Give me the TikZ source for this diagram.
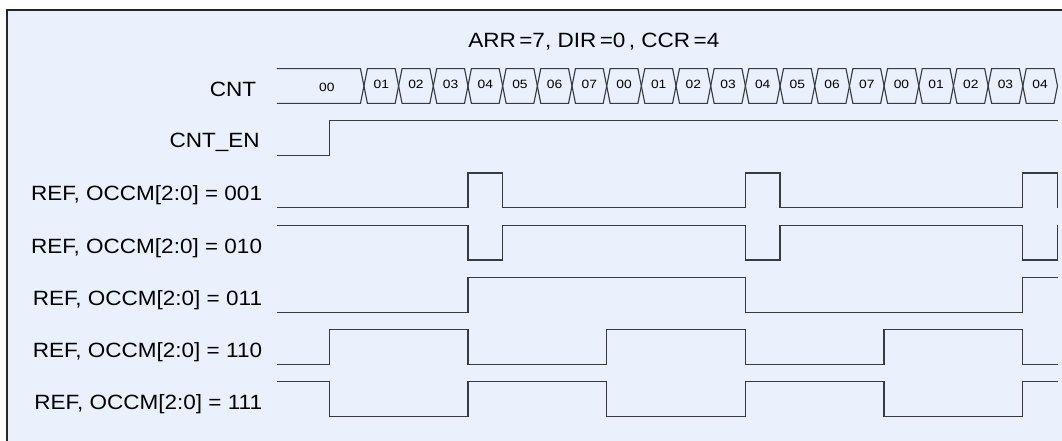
\documentclass[tikz,border=0pt]{standalone}
\usepackage{fontspec}
\setmainfont{Liberation Sans}
\newfontfamily\lblfont[FakeStretch=1.09]{Liberation Sans}
\newfontfamily\cntfont[FakeStretch=1.15]{Liberation Sans}
\definecolor{panel}{HTML}{EAF1FC}
\definecolor{wave}{HTML}{383C42}

\begin{document}
\begin{tikzpicture}[x=26.01pt,y=26.1pt]
\tikzstyle{every node}=[inner sep=0pt];
\tikzstyle{lbl}=[anchor=base east, font=\lblfont\fontsize{15.5}{18}\selectfont];
\tikzstyle{ttl}=[anchor=base, font=\lblfont\fontsize{15.5}{18}\selectfont];
\tikzstyle{cnt}=[font=\cntfont\fontsize{9}{11}\selectfont];
\tikzstyle{sig}=[draw=wave, line width=1pt];
\tikzstyle{bus}=[draw=wave, line width=0.85pt, line join=miter];

\useasboundingbox (-9.495,0) rectangle (21.13,12.672);
\clip (-9.495,0) rectangle (21.13,12.672);
\draw[fill=panel, draw=black!85, line width=1.1pt] (-9.29,12.385) rectangle (22,-1);

\draw (7.63,11.32) node[ttl] (title) {ARR\,=7, DIR\,=0\,, CCR\,=4};

\draw (-2.1,9.9) node[lbl] (lcnt) {CNT};
\draw (-2.0,8.42) node[lbl] (len) {CNT\_EN};
\draw (-1.93,6.9) node[lbl] (l001) {REF, OCCM[2:0] = 001};
\draw (-1.93,5.4) node[lbl] (l010) {REF, OCCM[2:0] = 010};
\draw (-1.93,3.9) node[lbl] (l011) {REF, OCCM[2:0] = 011};
\draw (-1.93,2.4) node[lbl] (l110) {REF, OCCM[2:0] = 110};
\draw (-1.93,0.9) node[lbl] (l111) {REF, OCCM[2:0] = 111};

% counter bus
\draw[bus] (-1.51,10.7) -- (0.9,10.7) -- (1,10.2) -- (0.9,9.7) -- (-1.51,9.7);
\draw[bus] (1,10.2) -- (1.1,10.7) -- (1.9,10.7) -- (2,10.2) -- (1.9,9.7) -- (1.1,9.7) -- cycle;
\draw[bus] (2,10.2) -- (2.1,10.7) -- (2.9,10.7) -- (3,10.2) -- (2.9,9.7) -- (2.1,9.7) -- cycle;
\draw[bus] (3,10.2) -- (3.1,10.7) -- (3.9,10.7) -- (4,10.2) -- (3.9,9.7) -- (3.1,9.7) -- cycle;
\draw[bus] (4,10.2) -- (4.1,10.7) -- (4.9,10.7) -- (5,10.2) -- (4.9,9.7) -- (4.1,9.7) -- cycle;
\draw[bus] (5,10.2) -- (5.1,10.7) -- (5.9,10.7) -- (6,10.2) -- (5.9,9.7) -- (5.1,9.7) -- cycle;
\draw[bus] (6,10.2) -- (6.1,10.7) -- (6.9,10.7) -- (7,10.2) -- (6.9,9.7) -- (6.1,9.7) -- cycle;
\draw[bus] (7,10.2) -- (7.1,10.7) -- (7.9,10.7) -- (8,10.2) -- (7.9,9.7) -- (7.1,9.7) -- cycle;
\draw[bus] (8,10.2) -- (8.1,10.7) -- (8.9,10.7) -- (9,10.2) -- (8.9,9.7) -- (8.1,9.7) -- cycle;
\draw[bus] (9,10.2) -- (9.1,10.7) -- (9.9,10.7) -- (10,10.2) -- (9.9,9.7) -- (9.1,9.7) -- cycle;
\draw[bus] (10,10.2) -- (10.1,10.7) -- (10.9,10.7) -- (11,10.2) -- (10.9,9.7) -- (10.1,9.7) -- cycle;
\draw[bus] (11,10.2) -- (11.1,10.7) -- (11.9,10.7) -- (12,10.2) -- (11.9,9.7) -- (11.1,9.7) -- cycle;
\draw[bus] (12,10.2) -- (12.1,10.7) -- (12.9,10.7) -- (13,10.2) -- (12.9,9.7) -- (12.1,9.7) -- cycle;
\draw[bus] (13,10.2) -- (13.1,10.7) -- (13.9,10.7) -- (14,10.2) -- (13.9,9.7) -- (13.1,9.7) -- cycle;
\draw[bus] (14,10.2) -- (14.1,10.7) -- (14.9,10.7) -- (15,10.2) -- (14.9,9.7) -- (14.1,9.7) -- cycle;
\draw[bus] (15,10.2) -- (15.1,10.7) -- (15.9,10.7) -- (16,10.2) -- (15.9,9.7) -- (15.1,9.7) -- cycle;
\draw[bus] (16,10.2) -- (16.1,10.7) -- (16.9,10.7) -- (17,10.2) -- (16.9,9.7) -- (16.1,9.7) -- cycle;
\draw[bus] (17,10.2) -- (17.1,10.7) -- (17.9,10.7) -- (18,10.2) -- (17.9,9.7) -- (17.1,9.7) -- cycle;
\draw[bus] (18,10.2) -- (18.1,10.7) -- (18.9,10.7) -- (19,10.2) -- (18.9,9.7) -- (18.1,9.7) -- cycle;
\draw[bus] (19,10.2) -- (19.1,10.7) -- (19.9,10.7) -- (20,10.2) -- (19.9,9.7) -- (19.1,9.7) -- cycle;
\draw[bus] (20,10.2) -- (20.1,10.7) -- (20.9,10.7) -- (21,10.2) -- (20.9,9.7) -- (20.1,9.7) -- cycle;

\draw (-0.07,10.15) node[cnt] (c0) {00};
\draw (1.5,10.25) node[cnt] (c1) {01};
\draw (2.5,10.25) node[cnt] (c2) {02};
\draw (3.5,10.25) node[cnt] (c3) {03};
\draw (4.5,10.25) node[cnt] (c4) {04};
\draw (5.5,10.25) node[cnt] (c5) {05};
\draw (6.5,10.25) node[cnt] (c6) {06};
\draw (7.5,10.25) node[cnt] (c7) {07};
\draw (8.5,10.25) node[cnt] (c8) {00};
\draw (9.5,10.25) node[cnt] (c9) {01};
\draw (10.5,10.25) node[cnt] (c10) {02};
\draw (11.5,10.25) node[cnt] (c11) {03};
\draw (12.5,10.25) node[cnt] (c12) {04};
\draw (13.5,10.25) node[cnt] (c13) {05};
\draw (14.5,10.25) node[cnt] (c14) {06};
\draw (15.5,10.25) node[cnt] (c15) {07};
\draw (16.5,10.25) node[cnt] (c16) {00};
\draw (17.5,10.25) node[cnt] (c17) {01};
\draw (18.5,10.25) node[cnt] (c18) {02};
\draw (19.5,10.25) node[cnt] (c19) {03};
\draw (20.5,10.25) node[cnt] (c20) {04};

% waveforms
\draw[sig] (-1.51,8.2) -- (0,8.2) -- (0,9.2) -- (21,9.2);
\draw[sig] (-1.51,6.7) -- (4,6.7) -- (4,7.7) -- (5,7.7) -- (5,6.7) -- (12,6.7) -- (12,7.7) -- (13,7.7) -- (13,6.7) -- (20,6.7) -- (20,7.7) -- (21,7.7) -- (21,6.7);
\draw[sig] (-1.51,6.2) -- (4,6.2) -- (4,5.2) -- (5,5.2) -- (5,6.2) -- (12,6.2) -- (12,5.2) -- (13,5.2) -- (13,6.2) -- (20,6.2) -- (20,5.2) -- (21,5.2) -- (21,6.2);
\draw[sig] (-1.51,3.7) -- (4,3.7) -- (4,4.7) -- (12,4.7) -- (12,3.7) -- (20,3.7) -- (20,4.7) -- (21,4.7);
\draw[sig] (-1.51,2.2) -- (0,2.2) -- (0,3.2) -- (4,3.2) -- (4,2.2) -- (8,2.2) -- (8,3.2) -- (12,3.2) -- (12,2.2) -- (16,2.2) -- (16,3.2) -- (20,3.2) -- (20,2.2) -- (21,2.2);
\draw[sig] (-1.51,1.7) -- (0,1.7) -- (0,0.7) -- (4,0.7) -- (4,1.7) -- (8,1.7) -- (8,0.7) -- (12,0.7) -- (12,1.7) -- (16,1.7) -- (16,0.7) -- (20,0.7) -- (20,1.7) -- (21,1.7);

\end{tikzpicture}
\end{document}
